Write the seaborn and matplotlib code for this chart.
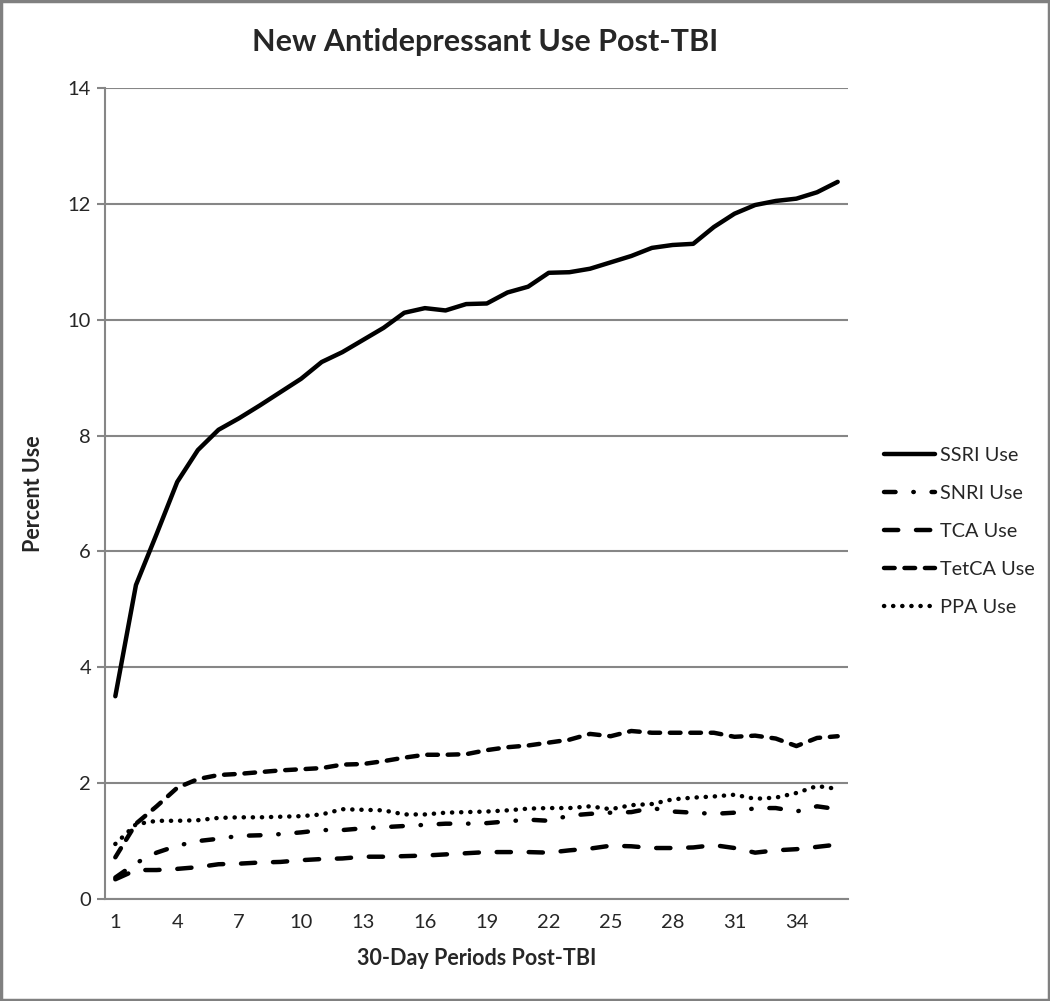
import matplotlib
matplotlib.use('Agg')
import matplotlib.pyplot as plt
from matplotlib.patches import Rectangle
import seaborn as sns
import numpy as np

periods = list(range(1, 37))
ssri = [3.5, 5.42, 6.3, 7.2, 7.75, 8.1, 8.3, 8.52, 8.75, 8.98, 9.27, 9.44,
        9.65, 9.86, 10.12, 10.2, 10.16, 10.27, 10.28, 10.47, 10.57, 10.81,
        10.82, 10.88, 10.99, 11.1, 11.24, 11.29, 11.31, 11.6, 11.83, 11.98,
        12.05, 12.09, 12.2, 12.38]
snri = [0.37, 0.62, 0.8, 0.92, 1.0, 1.04, 1.09, 1.1, 1.12, 1.15, 1.19, 1.19,
        1.22, 1.24, 1.26, 1.28, 1.3, 1.3, 1.31, 1.34, 1.37, 1.35, 1.44, 1.47,
        1.49, 1.5, 1.57, 1.51, 1.49, 1.47, 1.49, 1.57, 1.57, 1.51, 1.6, 1.55]
tca = [0.34, 0.5, 0.5, 0.52, 0.55, 0.6, 0.61, 0.63, 0.64, 0.67, 0.69, 0.7,
       0.73, 0.73, 0.74, 0.75, 0.77, 0.79, 0.81, 0.81, 0.81, 0.8, 0.84, 0.87,
       0.92, 0.91, 0.88, 0.88, 0.89, 0.93, 0.88, 0.8, 0.84, 0.86, 0.9, 0.94]
tetca = [0.72, 1.3, 1.6, 1.92, 2.07, 2.14, 2.16, 2.19, 2.22, 2.24, 2.26, 2.32,
         2.33, 2.38, 2.44, 2.49, 2.49, 2.5, 2.57, 2.62, 2.65, 2.7, 2.75, 2.85,
         2.81, 2.9, 2.87, 2.87, 2.87, 2.87, 2.8, 2.82, 2.77, 2.64, 2.78, 2.81]
ppa = [0.95, 1.29, 1.35, 1.35, 1.36, 1.4, 1.41, 1.41, 1.42, 1.43, 1.46, 1.55,
       1.54, 1.53, 1.46, 1.46, 1.49, 1.5, 1.51, 1.53, 1.56, 1.57, 1.57, 1.6,
       1.55, 1.62, 1.64, 1.72, 1.75, 1.77, 1.8, 1.73, 1.75, 1.83, 1.95, 1.9]

series = [("SSRI Use", ssri, None),
          ("SNRI Use", snri, (2.6, 4.0, 0.1, 4.0)),
          ("TCA Use", tca, (3.2, 4.0)),
          ("TetCA Use", tetca, (2.4, 2.2)),
          ("PPA Use", ppa, (0.05, 2.0))]

sns.set_style("white")
plt.rcParams['font.family'] = ['Lato', 'DejaVu Sans']

fig = plt.figure(figsize=(10.5, 10.01), dpi=100)
ax = fig.add_axes([105 / 1050, 1 - 899 / 1001, 743 / 1050, (899 - 88) / 1001])

for name, vals, dash in series:
    sns.lineplot(x=periods, y=vals, ax=ax, color="black", linewidth=3.2, label=name)
    line = ax.lines[-1]
    if dash is None:
        line.set_solid_capstyle("round")
    else:
        line.set_dashes(dash)
        line.set_dash_capstyle("round")

ax.set_xlim(0.5, 36.5)
ax.set_ylim(0, 14)
ax.set_yticks(np.arange(0, 15, 2))
ax.set_xticks(list(range(1, 37, 3)))
ax.yaxis.grid(True, color="#868686", linewidth=1.5)
ax.set_axisbelow(True)
for s in ["top", "right"]:
    ax.spines[s].set_visible(False)
for s in ["left", "bottom"]:
    ax.spines[s].set_color("#868686")
    ax.spines[s].set_linewidth(1.5)
ax.tick_params(axis="y", length=6, width=1.5, color="#868686", pad=4,
               labelsize=14.5, direction="out", left=True)
ax.tick_params(axis="x", length=0, pad=11, labelsize=14.5)

ax.set_ylabel("Percent Use", fontsize=15.5, fontweight="bold")
ax.yaxis.set_label_coords(-0.082, 0.5)
ax.set_xlabel("30-Day Periods Post-TBI", fontsize=15.5, fontweight="bold", labelpad=12)

fig.text(485 / 1050, 1 - 42 / 1001, "New Antidepressant Use Post-TBI",
         fontsize=22, fontweight="bold", ha="center", va="center")

leg = ax.legend(loc="upper left", bbox_to_anchor=(1.025, 0.579), frameon=False,
                fontsize=14.3, handlelength=2.56, handletextpad=0.25, labelspacing=1.05)

fig.patches.append(Rectangle((0.001, 0.001), 0.998, 0.998, transform=fig.transFigure,
                             fill=False, edgecolor="#808080", linewidth=2.5))

plt.savefig("out.png", dpi=100)
plt.close()
